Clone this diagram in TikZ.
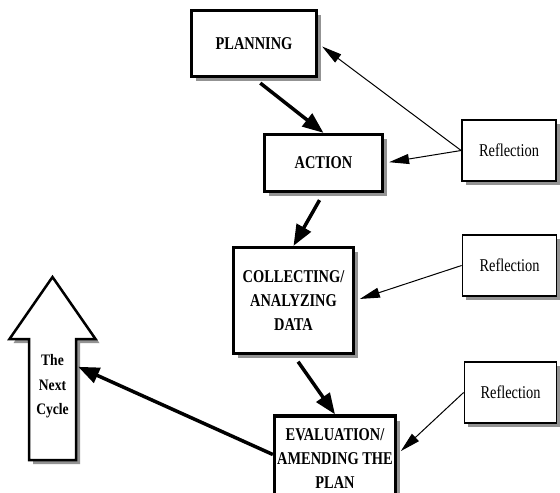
\documentclass[tikz,border=0pt]{standalone}
\usepackage{fontspec}
\newfontfamily\boxfont{Liberation Serif}[FakeStretch=0.8]
\newfontfamily\cyclefont{Liberation Serif}[FakeStretch=0.85]
\usetikzlibrary{arrows.meta,shadows}

\begin{document}
\begin{tikzpicture}[x=1pt,y=-1pt,
  stagebox/.style={draw, line width=3.3pt, fill=white, inner sep=1pt, align=center,
    font=\boxfont\bfseries\fontsize{18}{24}\selectfont,
    drop shadow={shadow xshift=4.5pt, shadow yshift=-4.5pt, fill=gray!85, opacity=1}},
  notebox/.style={draw, line width=1.8pt, fill=white, minimum width=94pt, minimum height=61pt,
    font=\boxfont\fontsize{18}{20}\selectfont,
    drop shadow={shadow xshift=3.5pt, shadow yshift=-3.5pt, fill=gray!85, opacity=1}},
  flow/.style={line width=3.5pt, -{Triangle[length=21pt,width=16pt]}},
  feedback/.style={line width=1pt, -{Triangle[length=20pt,width=10pt]}},
  cycletext/.style={font=\cyclefont\bfseries\fontsize{16}{24.5}\selectfont, align=center}]

\useasboundingbox (0,0) rectangle (560,493);

% stages of the cycle
\node[stagebox, minimum width=125pt, minimum height=66pt] (plan) at (254,43.5) {PLANNING};
\node[stagebox, minimum width=118pt, minimum height=57pt] (act) at (323.5,163) {ACTION};
\node[stagebox, minimum width=120pt, minimum height=106pt] (coll) at (293.5,300.5)
  {COLLECTING/\\ANALYZING\\DATA};
\node[stagebox, minimum width=121pt, minimum height=85pt] (eval) at (335,458.5)
  {EVALUATION/\\AMENDING THE\\PLAN};

% reflection notes
\node[notebox] (r1) at (509,150.5) {Reflection};
\node[notebox] (r2) at (509.5,265.5) {Reflection};
\node[notebox, minimum width=92pt] (r3) at (510.5,392.5) {Reflection};

% the big upward arrow for the next cycle: shadow, outline, label
\node[minimum width=47pt, minimum height=121pt, inner sep=0pt] (cyc) at (52.5,399.5) {};
\fill[gray!85, shift={(4,4)}] (29,460) -- (29,339) -- (9.5,339) -- (52.5,277)
  -- (95.5,339) -- (76,339) -- (76,460) -- cycle;
\draw[line width=2.5pt, fill=white, line join=miter] (29,460) -- (29,339) -- (9.5,339)
  -- (52.5,277) -- (95.5,339) -- (76,339) -- (76,460) -- cycle;
\node[cycletext] (cyctext) at (52.5,386.5) {The\\Next\\Cycle};

% main flow
\draw[flow, shorten <=8pt] (plan.south) -- (act.north);
\draw[flow, shorten <=8pt] (act.south) -- (coll.north);
\draw[flow, shorten <=8pt] (coll.south) -- (eval.north);
\draw[flow] ([yshift=4pt]eval.west) -- ([xshift=2pt,yshift=-28pt]cyc.north east);

% reflection feedback
\draw[feedback, shorten >=5pt] (r1.west) -- (plan.east);
\draw[feedback, shorten >=5pt] (r1.west) -- (act.east);
\draw[feedback, shorten >=5pt] (r2.west) -- (coll.east);
\draw[feedback, shorten >=5pt] (r3.west) -- ([yshift=4pt]eval.east);
\end{tikzpicture}
\end{document}
